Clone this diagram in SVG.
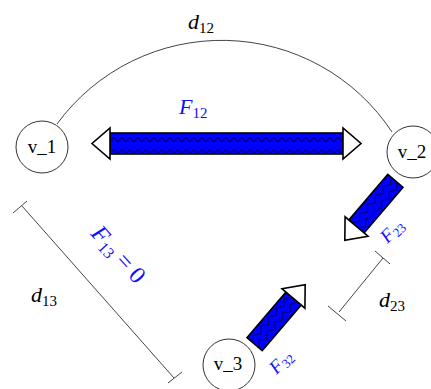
<svg xmlns="http://www.w3.org/2000/svg" width="431" height="389" viewBox="0 0 431 389">
<style>
.node{fill:#fff;stroke:#333;stroke-width:1}
.nl{font-family:"Liberation Serif",serif;font-size:19px;fill:#000;text-anchor:middle}
.dim{fill:none;stroke:#444;stroke-width:1}
.math{font-family:"Liberation Serif",serif;font-style:italic;font-size:22px}
.sub{font-style:normal;font-size:15px}
.blue{fill:#1010ff}
.body{stroke:#000;stroke-width:1.6}
.head{fill:#fff;stroke:#000;stroke-width:1.6;stroke-linejoin:miter}
</style>
<defs>
<pattern id="zz" patternUnits="userSpaceOnUse" x="0" y="-10.5" width="8" height="21">
<rect x="0" y="0" width="8" height="21" fill="#0000ff"/>
<polyline points="0,9 4,4 8,9" fill="none" stroke="#000" stroke-width="0.8"/>
<polyline points="0,20.5 4,16.5 8,20.5" fill="none" stroke="#000" stroke-width="0.8"/>
</pattern>
<pattern id="zz2" patternUnits="userSpaceOnUse" x="0" y="-10" width="12" height="20">
<rect x="0" y="0" width="12" height="20" fill="#0000ff"/>
<polyline points="0,8 6,3 12,8" fill="none" stroke="#000" stroke-width="0.8"/>
<polyline points="0,16 6,11 12,16" fill="none" stroke="#000" stroke-width="0.8"/>
</pattern>
</defs>
<g id="connectors">
<path id="arc12" class="dim" d="M 57 124 A 204 204 0 0 1 392 132"/>
<g id="dim13" class="dim">
<line x1="22" y1="206" x2="174" y2="378"/>
<line x1="13" y1="213" x2="27" y2="201"/>
<line x1="168" y1="383" x2="182" y2="372"/>
</g>
<g id="dim23" class="dim">
<line x1="383" y1="258" x2="339" y2="312"/>
<line x1="375" y1="251" x2="390" y2="264"/>
<line x1="328" y1="306" x2="346" y2="321"/>
</g>
<g id="F12" transform="translate(110,143.5)">
<rect class="body" x="0" y="-10.5" width="233" height="21" fill="url(#zz)"/>
<polygon class="head" points="0,-15.5 0,15.5 -18,0"/>
<polygon class="head" points="233,-15.5 233,15.5 251,0"/>
</g>
<g id="F23" transform="translate(356.5,226.5) rotate(130.4)">
<rect class="body" x="-60" y="-10" width="60" height="20" fill="url(#zz2)"/>
<polygon class="head" points="0,-15 0,15 18,0"/>
</g>
<g id="F32" transform="translate(293.5,298.5) rotate(-49.6)">
<rect class="body" x="-60" y="-10" width="60" height="20" fill="url(#zz2)"/>
<polygon class="head" points="0,-15 0,15 18,0"/>
</g>
</g>
<g id="v1"><circle class="node" cx="42" cy="147" r="26"/><text class="nl" x="42" y="153">v_1</text></g>
<g id="v2"><circle class="node" cx="413" cy="152" r="26"/><text class="nl" x="412" y="158">v_2</text></g>
<g id="v3"><circle class="node" cx="229" cy="365" r="26"/><text class="nl" x="228" y="370">v_3</text></g>
<g id="labels">
<text class="math" x="188" y="29">d<tspan class="sub" dy="4">12</tspan></text>
<text class="math blue" x="179" y="114">F<tspan class="sub" dy="4">12</tspan></text>
<text class="math" x="31" y="302">d<tspan class="sub" dy="4">13</tspan></text>
<text class="math" x="379" y="307">d<tspan class="sub" dy="4">23</tspan></text>
<text class="math blue" transform="translate(118,255) rotate(48)" x="0" y="7" text-anchor="middle" style="font-size:24px">F<tspan class="sub" style="font-size:16px" dy="4">13</tspan><tspan dy="-4" font-style="normal"> = 0</tspan></text>
<text class="math blue" style="font-size:19px" transform="translate(392,231) rotate(-45)" x="0" y="6" text-anchor="middle">F<tspan class="sub" style="font-size:13px" dy="3">23</tspan></text>
<text class="math blue" style="font-size:19px" transform="translate(281,362) rotate(-45)" x="0" y="6" text-anchor="middle">F<tspan class="sub" style="font-size:13px" dy="3">32</tspan></text>
</g>
</svg>
